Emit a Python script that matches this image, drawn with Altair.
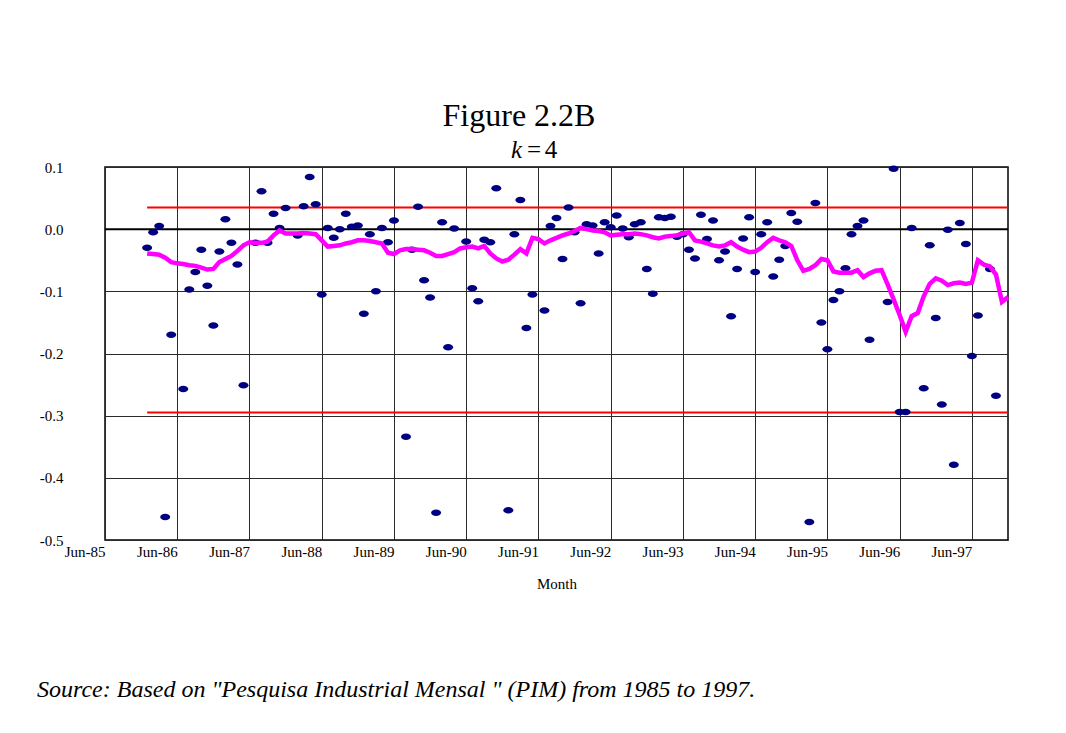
import altair as alt
import pandas as pd

# ---- data (monthly, Jan-86 .. Dec-97) ----
first_month = "1986-01"
last_month = "1997-12"

# residual points (None = not shown)
dots = [
    -0.030, -0.005, 0.005, -0.463, -0.170, None, -0.257, -0.097, -0.069, -0.033, -0.091, -0.155,   # 1986
    -0.036, 0.016, -0.022, -0.057, -0.251, None, -0.022, 0.061, -0.022, 0.025, 0.002, 0.034,      # 1987
    None, -0.010, 0.037, 0.084, 0.040, -0.105, 0.002, -0.014, 0.000, 0.025, 0.004, 0.006,          # 1988
    -0.136, -0.008, -0.100, 0.002, -0.021, 0.014, None, -0.334, -0.033, 0.036, -0.082, -0.110,     # 1989
    -0.456, 0.011, -0.190, 0.001, None, -0.020, -0.095, -0.116, -0.017, -0.021, 0.066, None,       # 1990
    -0.452, -0.008, 0.047, -0.159, -0.105, None, -0.131, 0.005, 0.018, -0.048, 0.035, -0.005,      # 1991
    -0.119, 0.008, 0.006, -0.039, 0.011, 0.003, 0.022, 0.001, -0.013, 0.008, 0.011, -0.064,        # 1992
    -0.104, 0.019, 0.018, 0.020, -0.012, -0.008, -0.033, -0.047, 0.023, -0.016, 0.014, -0.050,     # 1993
    -0.036, -0.140, -0.064, -0.015, 0.019, -0.069, -0.008, 0.011, -0.076, -0.049, -0.027, 0.026,   # 1994
    0.012, None, -0.471, 0.042, -0.150, -0.193, -0.114, -0.100, -0.063, -0.008, 0.005, 0.014,      # 1995
    -0.178, None, None, -0.117, 0.097, -0.294, -0.294, 0.002, None, -0.256, -0.026, -0.143,        # 1996
    -0.282, -0.001, -0.379, 0.010, -0.024, -0.204, -0.139, None, -0.064, -0.268, None, None,       # 1997
]

# moving average line
moving = [
    -0.039, -0.040, -0.041, -0.046, -0.053, -0.055, -0.056, -0.058, -0.059, -0.062, -0.065, -0.064,
    -0.053, -0.048, -0.043, -0.035, -0.026, -0.021, -0.022, -0.022, -0.020, -0.010, -0.002, -0.007,
    -0.007, -0.007, -0.006, -0.007, -0.008, -0.018, -0.028, -0.027, -0.026, -0.023, -0.021, -0.018,
    -0.018, -0.019, -0.021, -0.023, -0.038, -0.040, -0.034, -0.032, -0.032, -0.033, -0.034, -0.038,
    -0.043, -0.043, -0.040, -0.037, -0.031, -0.029, -0.028, -0.031, -0.027, -0.039, -0.047, -0.052,
    -0.049, -0.041, -0.032, -0.039, -0.014, -0.016, -0.023, -0.018, -0.014, -0.010, -0.007, -0.003,
    0.002, 0.000, -0.002, -0.003, -0.005, -0.010, -0.009, -0.008, -0.008, -0.007, -0.008, -0.010,
    -0.013, -0.015, -0.012, -0.011, -0.010, -0.007, -0.005, -0.018, -0.020, -0.023, -0.026, -0.028,
    -0.026, -0.021, -0.028, -0.033, -0.037, -0.036, -0.030, -0.021, -0.014, -0.018, -0.021, -0.027,
    -0.050, -0.067, -0.064, -0.058, -0.048, -0.050, -0.068, -0.070, -0.070, -0.070, -0.066, -0.077,
    -0.071, -0.067, -0.066, -0.089, -0.113, -0.138, -0.165, -0.140, -0.135, -0.108, -0.088, -0.079,
    -0.083, -0.090, -0.087, -0.086, -0.088, -0.086, -0.050, -0.057, -0.060, -0.073, -0.117, -0.109,
]

upper_limit = 0.035
lower_limit = -0.295

y_ticks = [-0.5, -0.4, -0.3, -0.2, -0.1, 0.0, 0.1]

title_text = "Figure 2.2B"
source_text = 'Source: Based on "Pesquisa Industrial Mensal " (PIM) from 1985 to 1997.'

# ---- build table ----
months = pd.period_range(first_month, last_month, freq="M")
idx = [(p.year - 1985) * 12 + (p.month - 6) for p in months]  # months since Jun-85
df = pd.DataFrame({"idx": idx, "dot": dots, "ma": moving})
limits = pd.DataFrame({
    "x0": [idx[0], idx[0]],
    "x1": [idx[-1], idx[-1]],
    "y": [upper_limit, lower_limit],
})

SERIF = "Liberation Serif"
W, H = 903, 373

x_scale = alt.Scale(domain=[0, 150], nice=False, zero=False)
y_scale = alt.Scale(domain=[-0.5, 0.1], nice=False, zero=False)

x_axis = alt.Axis(
    values=list(range(0, 151, 6)),
    labelExpr="datum.value % 12 == 0 ? 'Jun-' + (85 + datum.value / 12) : ''",
    labelAlign="right", labelFont=SERIF, labelFontSize=15, labelColor="black",
    labelPadding=4, ticks=False, domain=False,
    grid=True, gridColor="#2a2a2a", gridWidth=1,
    title="Month", titleFont=SERIF, titleFontSize=15, titleFontWeight="normal",
    titleColor="black", titlePadding=17, labelOverlap=False,
)
y_axis = alt.Axis(
    values=y_ticks,
    labelExpr="datum.value < -0.00001 ? '-' + format(-datum.value, '.1f') : format(datum.value, '.1f')",
    labelFont=SERIF, labelFontSize=15, labelColor="black", labelPadding=42,
    ticks=False, domain=False, grid=True, gridColor="#2a2a2a", gridWidth=1,
    title=None,
)

base = alt.Chart(df)

grid = base.mark_point(opacity=0).encode(
    x=alt.X("idx:Q", scale=x_scale, axis=x_axis),
    y=alt.Y("dot:Q", scale=y_scale, axis=y_axis),
)

zero_line = alt.Chart(pd.DataFrame({"y": [0.0]})).mark_rule(color="black", strokeWidth=2).encode(
    y=alt.Y("y:Q", scale=y_scale)
)

limit_lines = alt.Chart(limits).mark_rule(color="#FF0000", strokeWidth=2).encode(
    x=alt.X("x0:Q", scale=x_scale),
    x2="x1:Q",
    y=alt.Y("y:Q", scale=y_scale),
)

ellipse = "M -1 0 A 1 0.65 0 1 0 1 0 A 1 0.65 0 1 0 -1 0 Z"
points = base.mark_point(filled=True, color="#000080", opacity=1, shape=ellipse, size=100).encode(
    x=alt.X("idx:Q", scale=x_scale),
    y=alt.Y("dot:Q", scale=y_scale),
)

ma_line = base.mark_line(color="#FF00FF", strokeWidth=4.5).encode(
    x=alt.X("idx:Q", scale=x_scale),
    y=alt.Y("ma:Q", scale=y_scale),
)

one = pd.DataFrame({"a": [0]})
title_mark = alt.Chart(one).mark_text(
    text=title_text, font=SERIF, fontSize=32, color="black", align="center", baseline="middle"
).encode(x=alt.value(414), y=alt.value(-51))
k_mark = alt.Chart(one).mark_text(
    text="k", font=SERIF, fontSize=25, fontStyle="italic", color="black", align="right", baseline="middle"
).encode(x=alt.value(417), y=alt.value(-17))
eq_mark = alt.Chart(one).mark_text(
    text="=", font=SERIF, fontSize=25, color="black", align="center", baseline="middle"
).encode(x=alt.value(429), y=alt.value(-17))
four_mark = alt.Chart(one).mark_text(
    text="4", font=SERIF, fontSize=25, color="black", align="center", baseline="middle"
).encode(x=alt.value(446), y=alt.value(-17))
source_mark = alt.Chart(one).mark_text(
    text=source_text, font=SERIF, fontSize=24, fontStyle="italic", color="black",
    align="left", baseline="middle"
).encode(x=alt.value(-68), y=alt.value(523))

chart = alt.layer(
    grid, zero_line, limit_lines, points, ma_line, title_mark, k_mark, eq_mark, four_mark, source_mark
).properties(
    width=W, height=H,
    autosize=alt.AutoSizeParams(type="none"),
    padding={"left": 97, "top": 159, "right": 50, "bottom": 180},
    background="white",
).configure_view(stroke="black", strokeWidth=1.5)

chart.save("out.html", embed_options={"renderer": "svg", "actions": False})
